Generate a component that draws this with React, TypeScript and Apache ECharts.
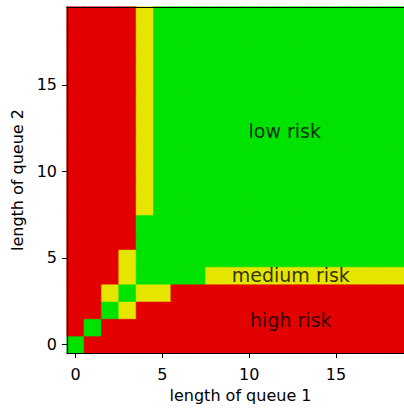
import React, { useEffect, useRef } from "react";
import * as echarts from "echarts";

// queue lengths 0..19 on both axes
const queue1: string[] = Array.from({ length: 20 }, (_, i) => String(i));
const queue2: string[] = Array.from({ length: 20 }, (_, i) => String(i));

// risk map, one string per row (queue 2 length = row index, bottom row first)
// H = high risk, M = medium risk, L = low risk; character index = queue 1 length
const riskRows: string[] = [
  "LHHHHHHHHHHHHHHHHHHH", // 0
  "HLHHHHHHHHHHHHHHHHHH", // 1
  "HHLMHHHHHHHHHHHHHHHH", // 2
  "HHMLMMHHHHHHHHHHHHHH", // 3
  "HHHMLLLLMMMMMMMMMMMM", // 4
  "HHHMLLLLLLLLLLLLLLLL", // 5
  "HHHHLLLLLLLLLLLLLLLL", // 6
  "HHHHLLLLLLLLLLLLLLLL", // 7
  "HHHHMLLLLLLLLLLLLLLL", // 8
  "HHHHMLLLLLLLLLLLLLLL", // 9
  "HHHHMLLLLLLLLLLLLLLL", // 10
  "HHHHMLLLLLLLLLLLLLLL", // 11
  "HHHHMLLLLLLLLLLLLLLL", // 12
  "HHHHMLLLLLLLLLLLLLLL", // 13
  "HHHHMLLLLLLLLLLLLLLL", // 14
  "HHHHMLLLLLLLLLLLLLLL", // 15
  "HHHHMLLLLLLLLLLLLLLL", // 16
  "HHHHMLLLLLLLLLLLLLLL", // 17
  "HHHHMLLLLLLLLLLLLLLL", // 18
  "HHHHMLLLLLLLLLLLLLLL", // 19
];
const riskLevel: Record<string, number> = { H: 0, M: 1, L: 2 };
const riskColors: string[] = ["#e30000", "#e5e500", "#00e300"];

// region annotations in data coordinates
const regionNames: string[] = ["low risk", "medium risk", "high risk"];
const regionX: number[] = [12.05, 12.4, 12.4];
const regionY: number[] = [12.35, 4.0, 1.4];

const xName = "length of queue 1";
const yName = "length of queue 2";

export default function App() {
  const ref = useRef<HTMLDivElement>(null);
  useEffect(() => {
    if (!ref.current) return;
    const chart = echarts.init(ref.current, null, { renderer: "svg" });
    const heat: any[] = [];
    riskRows.forEach((row, y) => {
      row.split("").forEach((c, x) => {
        const col = riskColors[riskLevel[c]];
        heat.push({
          value: [x, y, riskLevel[c]],
          itemStyle: { borderColor: col, borderWidth: 0.6 },
        });
      });
    });
    const labels = regionNames.map((n, i) => ({ value: [regionX[i], regionY[i]], name: n }));
    const font = "DejaVu Sans";
    chart.setOption({
      animation: false,
      grid: { left: 67, top: 7, width: 347, height: 347, containLabel: false },
      xAxis: [
        {
          type: "category",
          data: queue1,
          position: "bottom",
          z: 10,
          name: xName,
          nameLocation: "middle",
          nameGap: 33,
          nameTextStyle: { fontFamily: font, fontSize: 16, color: "#000" },
          axisLine: { show: true, onZero: false, lineStyle: { color: "#000", width: 1.2 } },
          axisTick: { show: true, interval: 4, alignWithLabel: true, length: 5, lineStyle: { color: "#000" } },
          axisLabel: { interval: 4, margin: 13, fontFamily: font, fontSize: 16, color: "#000" },
          splitLine: { show: false },
        },
        {
          type: "value",
          min: -0.5,
          max: 19.5,
          position: "top",
          z: 10,
          axisLine: { show: true, onZero: false, lineStyle: { color: "#000", width: 1.2 } },
          axisTick: { show: false },
          axisLabel: { show: false },
          splitLine: { show: false },
        },
      ],
      yAxis: [
        {
          type: "category",
          data: queue2,
          position: "left",
          z: 10,
          name: yName,
          nameLocation: "middle",
          nameGap: 23,
          nameTextStyle: { fontFamily: font, fontSize: 16, color: "#000" },
          axisLine: { show: true, onZero: false, lineStyle: { color: "#000", width: 1.2 } },
          axisTick: { show: true, interval: 4, alignWithLabel: true, length: 5, lineStyle: { color: "#000" } },
          axisLabel: { interval: 4, margin: 10, fontFamily: font, fontSize: 16, color: "#000" },
          splitLine: { show: false },
        },
        {
          type: "value",
          min: -0.5,
          max: 19.5,
          position: "right",
          axisLine: { show: false, onZero: false },
          axisTick: { show: false },
          axisLabel: { show: false },
          splitLine: { show: false },
        },
      ],
      visualMap: {
        type: "piecewise",
        show: false,
        dimension: 2,
        seriesIndex: 0,
        pieces: [
          { value: 0, color: riskColors[0] },
          { value: 1, color: riskColors[1] },
          { value: 2, color: riskColors[2] },
        ],
      },
      series: [
        {
          type: "heatmap",
          xAxisIndex: 0,
          yAxisIndex: 0,
          data: heat,
          emphasis: { disabled: true },
        },
        {
          type: "scatter",
          xAxisIndex: 1,
          yAxisIndex: 1,
          symbolSize: 0,
          z: 5,
          data: labels,
          label: {
            show: true,
            position: "inside",
            formatter: (p: any) => p.name,
            fontFamily: font,
            fontSize: 19,
            color: "#000",
          },
        },
      ],
    });
    return () => chart.dispose();
  }, []);
  return (
    <div style={{ position: "absolute", left: 0, top: 0, width: 404, height: 408, overflow: "hidden" }}>
      <div ref={ref} style={{ width: 430, height: 408 }} />
    </div>
  );
}
